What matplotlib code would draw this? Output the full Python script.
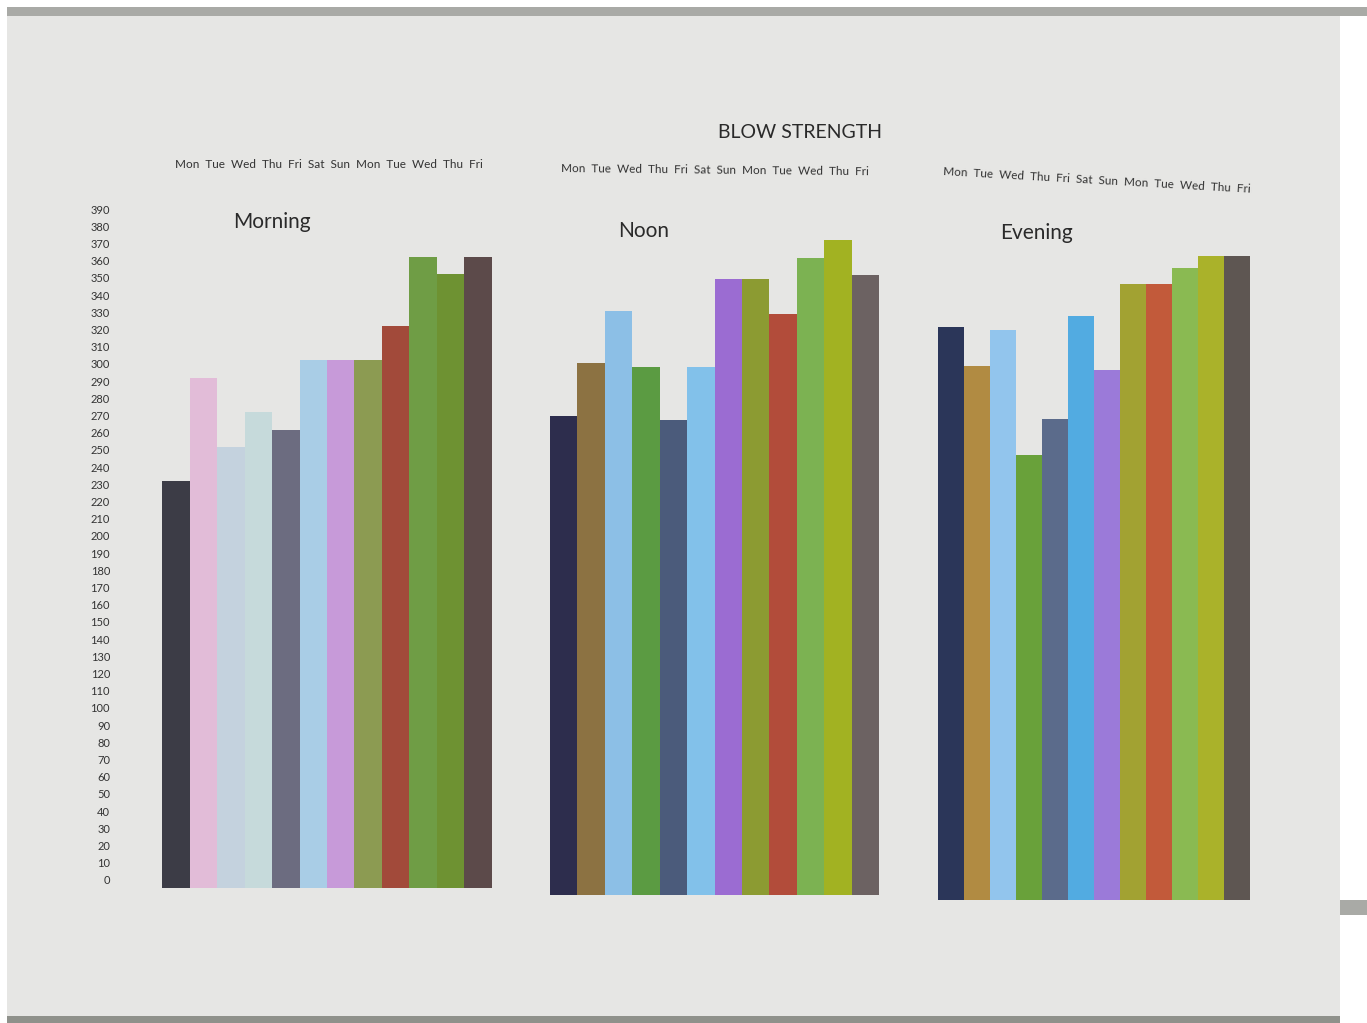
import matplotlib.pyplot as plt
from matplotlib.patches import Rectangle

plt.rcParams['font.family'] = ['Lato', 'DejaVu Sans']

W, H = 1367, 1023

days = ["Mon", "Tue", "Wed", "Thu", "Fri", "Sat", "Sun",
        "Mon", "Tue", "Wed", "Thu", "Fri"]

morning = [235, 295, 255, 275, 265, 305, 305, 305, 325, 365, 355, 365]
noon = [272, 302, 332, 300, 270, 300, 350, 350, 330, 362, 372, 352]
evening = [322, 300, 320, 250, 270, 328, 298, 346, 346, 355, 362, 362]

morning_colors = ["#3c3c46", "#e2bcd8", "#c4d2de", "#c6dadb", "#6c6c80", "#a9cde6",
                  "#c79ad9", "#8c9b52", "#a24a3a", "#6f9d45", "#6e9232", "#5c4a4a"]
noon_colors = ["#2d2d4d", "#8c7242", "#8cbfe6", "#5b9b42", "#4b5b7b", "#82c1ea",
               "#9b6cd2", "#8c9b32", "#b24c3a", "#7cb252", "#a2b222", "#6c6262"]
evening_colors = ["#2b3659", "#b18b42", "#92c5ed", "#69a13a", "#5b6b8b", "#52abe1",
                  "#9b7ad9", "#a2a232", "#c25a3a", "#8aba52", "#aab22a", "#5e5652"]

y_ticks = list(range(0, 400, 10))

fig = plt.figure(figsize=(W / 100, H / 100), dpi=100, facecolor="white")


def px_rect(x0, y0, x1, y1, color, z):
    fig.patches.append(Rectangle((x0 / W, 1 - y1 / H), (x1 - x0) / W, (y1 - y0) / H,
                                 transform=fig.transFigure, facecolor=color,
                                 edgecolor="none", zorder=z))


# table edges and the sheet of paper
px_rect(7, 7, W, 16, "#a9aaa6", -3)
px_rect(7, 1014, 1340, H, "#8f918b", -3)
px_rect(1340, 900, W, 915, "#a9aaa6", -3)
px_rect(7, 16, 1340, 1016, "#e6e6e4", -2)


def add_panel(left, right, bottom, scale, values, colors):
    top = bottom - 400 * scale
    ax = fig.add_axes([left / W, 1 - bottom / H, (right - left) / W, (bottom - top) / H])
    ax.set_facecolor("none")
    x = range(len(values))
    ax.bar(x, values, width=1.0, color=colors, edgecolor="none")
    ax.set_xlim(-0.5, len(values) - 0.5)
    ax.set_ylim(0, 400)
    for s in ax.spines.values():
        s.set_visible(False)
    ax.set_xticks([])
    ax.set_yticks([])
    return ax


def day_row(x, y, angle):
    fig.text(x / W, 1 - y / H, "  ".join(days), fontsize=8.5, color="#333333",
             ha="left", va="center", rotation=angle, rotation_mode="anchor")


add_panel(162, 492, 888, 1.73, morning, morning_colors)
add_panel(550, 879, 895, 1.76, noon, noon_colors)
add_panel(938, 1250, 900, 1.78, evening, evening_colors)

# value scale printed along the left edge
yax = fig.add_axes([110 / W, 1 - 880 / H, 10 / W, (390 * 1.72) / H])
yax.set_facecolor("none")
yax.set_ylim(0, 390)
yax.set_xticks([])
yax.set_yticks(y_ticks)
yax.set_yticklabels([str(v) for v in y_ticks], fontsize=8, color="#333333")
yax.tick_params(axis="y", length=0, pad=0)
for s in yax.spines.values():
    s.set_visible(False)

day_row(175, 164, 0)
day_row(561, 169, -0.6)
day_row(943, 172, -3.3)

for label, x, y in [("Morning", 272, 222), ("Noon", 644, 231), ("Evening", 1037, 233)]:
    fig.text(x / W, 1 - y / H, label, fontsize=15, color="#2a2a2a",
             ha="center", va="center")

fig.text(800 / W, 1 - 132 / H, "BLOW STRENGTH", fontsize=14, color="#2a2a2a",
         ha="center", va="center")

fig.savefig("out.png", dpi=100, facecolor=fig.get_facecolor())
